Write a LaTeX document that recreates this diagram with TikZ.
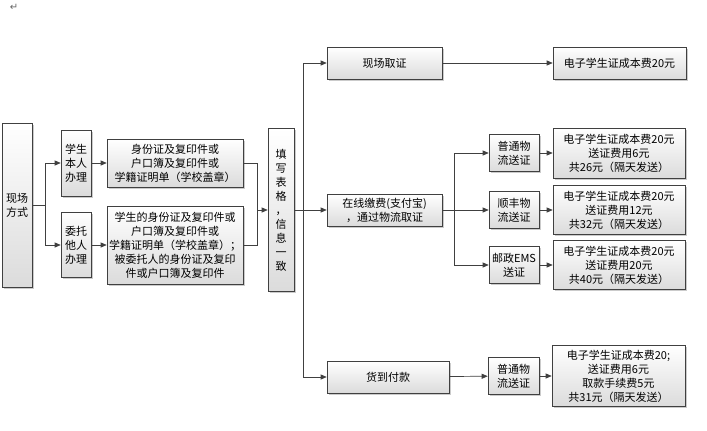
\documentclass[tikz,border=0pt]{standalone}
\usepackage{fontspec}
\setmainfont{Noto Sans CJK SC}
\newfontfamily\symfont{DejaVu Sans}
\usetikzlibrary{arrows.meta,shadows}
\begin{document}
\begin{tikzpicture}[x=1pt,y=-1pt,
  box/.style={draw=black!75,line width=0.6pt,top color=white,bottom color=black!14,
    drop shadow={shadow xshift=1.5pt,shadow yshift=-1.5pt,fill=black!40,opacity=0.5},
    align=center,inner sep=0pt,font=\fontsize{11}{14}\selectfont},
  arr/.style={draw=black!75,line width=0.7pt,-{Triangle[length=6pt,width=5pt]}},
  ln/.style={draw=black!75,line width=0.7pt}]
\useasboundingbox[fill=white] (0,0) rectangle (707,431);
\node[text=black!60,font=\symfont\fontsize{10}{10}\selectfont] (mark) at (14,7) {↵};
\node[box,minimum width=30,minimum height=164] (xcfs) at (17,205) {现场\\方式};
\node[box,minimum width=30,minimum height=66] (brbl) at (76,163) {学生\\本人\\办理};
\node[box,minimum width=30,minimum height=65] (wtbl) at (76,245) {委托\\他人\\办理};
\node[box,minimum width=136,minimum height=48] (clbr) at (175,163) {身份证及复印件或\\户口簿及复印件或\\学籍证明单（学校盖章）};
\node[box,minimum width=136,minimum height=78] (clwt) at (175,245) {学生的身份证及复印件或\\户口簿及复印件或\\学籍证明单（学校盖章）；\\被委托人的身份证及复印\\件或户口簿及复印件};
\node[box,minimum width=26,minimum height=163] (txbg) at (281,210) {填\\写\\表\\格\\，\\信\\息\\一\\致};
\node[box,minimum width=115,minimum height=32] (xcqz) at (384.5,63) {现场取证};
\node[box,minimum width=115,minimum height=32] (zxjf) at (384.5,210) {在线缴费(支付宝)\\，通过物流取证};
\node[box,minimum width=122,minimum height=32] (hdfk) at (388,377) {货到付款};
\node[box,minimum width=133,minimum height=32] (fyxc) at (619.5,63) {电子学生证成本费20元};
\node[box,minimum width=50,minimum height=37] (ptwl) at (514,153) {普通物\\流送证};
\node[box,minimum width=50,minimum height=37] (sfwl) at (514,210) {顺丰物\\流送证};
\node[box,minimum width=50,minimum height=37] (emsw) at (514,265) {邮政EMS\\送证};
\node[box,minimum width=132,minimum height=50] (fypt) at (619,153) {电子学生证成本费20元\\送证费用6元\\共26元（隔天发送）};
\node[box,minimum width=132,minimum height=49] (fysf) at (619,210) {电子学生证成本费20元\\送证费用12元\\共32元（隔天发送）};
\node[box,minimum width=132,minimum height=49] (fyem) at (619,265) {电子学生证成本费20元\\送证费用20元\\共40元（隔天发送）};
\node[box,minimum width=51,minimum height=37] (hdwl) at (513.5,376) {普通物\\流送证};
\node[box,minimum width=133,minimum height=61] (fyhd) at (618.5,376) {电子学生证成本费20;\\送证费用6元\\取款手续费5元\\共31元（隔天发送）};
\coordinate (fz1) at (45,205);
\coordinate (hb1) at (257,210);
\coordinate (fz2) at (303,210);
\coordinate (fz3) at (454,210);
\draw[ln] (xcfs.east) -- (fz1);
\draw[arr] (fz1) |- (brbl);
\draw[arr] (fz1) |- (wtbl);
\draw[arr] (brbl) -- (clbr);
\draw[arr] (wtbl) -- (clwt);
\draw[ln] (clbr.east) -| (hb1);
\draw[ln] (clwt.east) -| (hb1);
\draw[arr] (hb1) -- (txbg);
\draw[ln] (txbg.east) -- (fz2);
\draw[arr] (fz2) |- (xcqz);
\draw[arr] (fz2) -- (zxjf);
\draw[arr] (fz2) |- (hdfk);
\draw[arr] (xcqz) -- (fyxc);
\draw[ln] (zxjf.east) -- (fz3);
\draw[arr] (fz3) |- (ptwl);
\draw[arr] (fz3) -- (sfwl);
\draw[arr] (fz3) |- (emsw);
\draw[arr] (ptwl) -- (fypt);
\draw[arr] (sfwl) -- (fysf);
\draw[arr] (emsw) -- (fyem);
\draw[arr] (hdfk) -- (hdwl);
\draw[arr] (hdwl) -- (fyhd);
\end{tikzpicture}
\end{document}
